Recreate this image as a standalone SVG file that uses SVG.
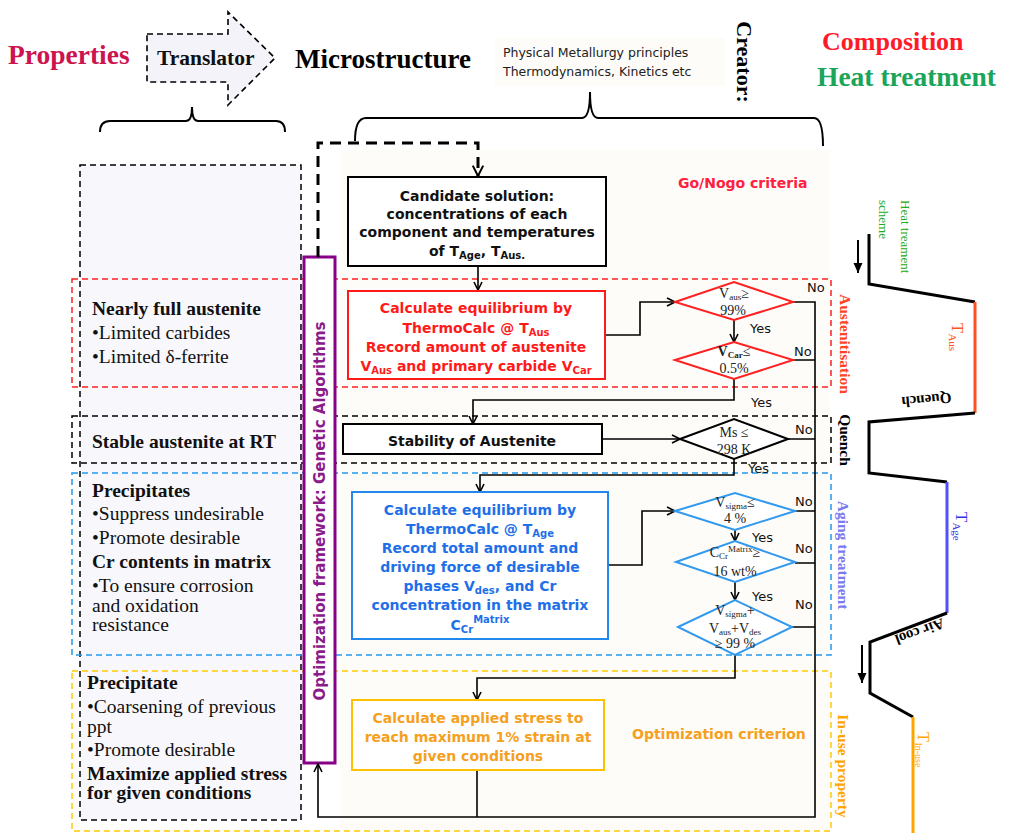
<svg xmlns="http://www.w3.org/2000/svg" width="1010" height="833" viewBox="0 0 1010 833">
<style>
.serif{font-family:"Liberation Serif","Times New Roman",serif}
.sans{font-family:"DejaVu Sans",Verdana,sans-serif}
.b{font-weight:bold}
.box{fill:#fff;stroke-width:2}
.ln{fill:none;stroke:#000;stroke-width:1.6}
.reg{fill:none;stroke-width:1.5;stroke-dasharray:6 4}
.lt{font-family:"Liberation Serif","Times New Roman",serif;font-size:19.5px;fill:#111}
.dt{font-family:"Liberation Serif","Times New Roman",serif;font-size:14px;fill:#222;text-anchor:middle}
.yn{font-family:"DejaVu Sans",Verdana,sans-serif;font-size:13px;fill:#111}
.bt{font-family:"DejaVu Sans",Verdana,sans-serif;font-weight:bold;font-size:14px;text-anchor:middle}
.heat{fill:none;stroke:#000;stroke-width:3}
</style>
<defs>
<marker id="v" viewBox="0 0 10 10" refX="9" refY="5" markerWidth="10" markerHeight="10" markerUnits="userSpaceOnUse" orient="auto"><path d="M1,1 L9,5 L1,9" fill="none" stroke="#000" stroke-width="1.6"/></marker>
<marker id="vb" viewBox="0 0 10 10" refX="9" refY="5" markerWidth="13" markerHeight="13" markerUnits="userSpaceOnUse" orient="auto"><path d="M1,1 L9,5 L1,9" fill="none" stroke="#000" stroke-width="1.5"/></marker>
<marker id="tri" viewBox="0 0 10 10" refX="10" refY="5" markerWidth="11" markerHeight="10" markerUnits="userSpaceOnUse" orient="auto"><path d="M0,0.5 L10,5 L0,9.5 z" fill="#000"/></marker>
</defs>

<!-- backgrounds -->
<rect x="80" y="165" width="221" height="655" fill="#f8f8fc"/>
<rect x="340" y="150" width="490" height="680" fill="#fefcf9"/>
<rect x="495" y="38" width="230" height="48" fill="#fefcf8"/>

<!-- top labels -->
<g id="top">
<text x="8" y="64" class="serif b" font-size="27.5" fill="#cc1450">Properties</text>
<g id="translator">
<polygon points="147,34 228,34 228,12 275,58 228,105 228,82 147,82" fill="#f3f3f9" stroke="#000" stroke-width="1.6" stroke-dasharray="6 4"/>
<text x="157" y="65" class="serif b" font-size="21.5" fill="#111">Translator</text>
</g>
<text x="295" y="68" class="serif b" font-size="27" fill="#000">Microstructure</text>
<text x="503" y="57" class="sans" font-size="12.5" fill="#222">Physical Metallurgy principles</text>
<text x="503" y="76" class="sans" font-size="12.5" fill="#222">Thermodynamics, Kinetics etc</text>
<text transform="translate(737,62) rotate(90)" text-anchor="middle" class="serif b" font-size="22" fill="#000">Creator:</text>
<text x="822" y="50" class="serif b" font-size="26" fill="#ff1a2a">Composition</text>
<text x="817" y="86" class="serif b" font-size="27.5" fill="#1aa55a">Heat treatment</text>
<path d="M100,132 Q100,121 110,121 H186 Q192,121 192,107 Q192,121 198,121 H276 Q285,121 285,132" fill="none" stroke="#000" stroke-width="2"/>
<path d="M355,141 Q355,118 366,118 H582 Q590,118 590,92 Q590,118 598,118 H814 Q823,118 823,146" fill="none" stroke="#000" stroke-width="2"/>
</g>

<!-- regions -->
<g id="regions">
<rect x="80" y="165" width="221" height="655" class="reg" stroke="#000"/>
<rect x="72" y="279" width="759" height="108" class="reg" stroke="#ff2020"/>
<rect x="72" y="416" width="759" height="47" class="reg" stroke="#000"/>
<rect x="72" y="473" width="759" height="182" class="reg" stroke="#2299ee"/>
<rect x="72" y="671" width="759" height="160" class="reg" stroke="#ffcc00"/>
<text transform="translate(840,344) rotate(90)" text-anchor="middle" class="serif b" font-size="15.5" fill="#ff4422">Austenitisation</text>
<text transform="translate(840,440) rotate(90)" text-anchor="middle" class="serif b" font-size="15.5" fill="#000">Quench</text>
<text transform="translate(838,555) rotate(90)" text-anchor="middle" class="serif b" font-size="15.5" fill="#7b7bf0">Aging treatment</text>
<text transform="translate(838,766) rotate(90)" text-anchor="middle" class="serif b" font-size="15.5" fill="#ffa500">In-use property</text>
<text x="678" y="188" class="sans b" font-size="14" fill="#ff2040">Go/Nogo criteria</text>
<text x="632" y="739" class="sans b" font-size="14" fill="#f5a020">Optimization criterion</text>
</g>

<!-- left column texts -->
<g id="left-austenite">
<text x="92" y="315" class="lt b">Nearly full austenite</text>
<text x="92" y="339" class="lt">•Limited carbides</text>
<text x="92" y="363" class="lt">•Limited δ-ferrite</text>
</g>
<g id="left-quench"><text x="92" y="448" class="lt b">Stable austenite at RT</text></g>
<g id="left-aging">
<text x="92" y="497" class="lt b">Precipitates</text>
<text x="92" y="520" class="lt">•Suppress undesirable</text>
<text x="92" y="544" class="lt">•Promote desirable</text>
<text x="92" y="568" class="lt b">Cr contents in matrix</text>
<text x="92" y="592" class="lt">•To ensure corrosion</text>
<text x="92" y="612" class="lt">and oxidation</text>
<text x="92" y="631" class="lt">resistance</text>
</g>
<g id="left-inuse">
<text x="87" y="689" class="lt b">Precipitate</text>
<text x="87" y="713" class="lt">•Coarsening of previous</text>
<text x="87" y="733" class="lt">ppt</text>
<text x="87" y="756" class="lt">•Promote desirable</text>
<text x="87" y="780" class="lt b">Maximize applied stress</text>
<text x="87" y="799" class="lt b">for given conditions</text>
</g>

<!-- optimization framework -->
<g id="ga">
<rect x="304" y="257" width="31" height="506" fill="#fff" stroke="#880088" stroke-width="3"/>
<text transform="translate(325,511) rotate(-90)" text-anchor="middle" class="sans b" font-size="15" fill="#8b1a8b">Optimization framework: Genetic Algorithms</text>
</g>

<!-- connectors -->
<g id="connectors">
<path d="M318,257 V143 H478 V176" fill="none" stroke="#000" stroke-width="3" stroke-dasharray="11 7" marker-end="url(#vb)"/>
<path d="M478,266 V290" class="ln" marker-end="url(#v)"/>
<path d="M605,335 H640 V302 H675" class="ln" marker-end="url(#v)"/>
<path d="M734,320 V342" class="ln" marker-end="url(#v)"/>
<path d="M734,379 V400 H473 V424" class="ln" marker-end="url(#v)"/>
<path d="M602,439 H680" class="ln" marker-end="url(#v)"/>
<path d="M734,459 V475 H480 V492" class="ln" marker-end="url(#v)"/>
<path d="M608,565 H642 V511 H675" class="ln" marker-end="url(#v)"/>
<path d="M735,530 V541" class="ln" marker-end="url(#v)"/>
<path d="M735,582 V600" class="ln" marker-end="url(#v)"/>
<path d="M735,655 V678 H477 V700" class="ln" marker-end="url(#v)"/>
<path d="M793,302 H815 V817 H318 V764" class="ln" marker-end="url(#v)"/>
<path d="M477,770 V817" class="ln"/>
<path d="M793,360 H815 M788,439 H815 M795,511 H815 M795,563 H815 M792,627 H815" class="ln"/>
<text x="807" y="292" class="yn">No</text>
<text x="750" y="333" class="yn">Yes</text>
<text x="794" y="356" class="yn">No</text>
<text x="751" y="407" class="yn">Yes</text>
<text x="795" y="434" class="yn">No</text>
<text x="748" y="473" class="yn">Yes</text>
<text x="795" y="506" class="yn">No</text>
<text x="752" y="542" class="yn">Yes</text>
<text x="795" y="553" class="yn">No</text>
<text x="752" y="601" class="yn">Yes</text>
<text x="795" y="609" class="yn">No</text>
</g>

<!-- process boxes -->
<g id="candidate">
<rect x="348" y="177" width="258" height="89" class="box" stroke="#000"/>
<text class="bt" fill="#111"><tspan x="477" y="201">Candidate solution:</tspan><tspan x="477" y="219">concentrations of each</tspan><tspan x="477" y="237">component and temperatures</tspan><tspan x="477" y="256">of T<tspan font-size="10" dy="3">Age</tspan><tspan dy="-3">, T</tspan><tspan font-size="10" dy="3">Aus.</tspan></tspan></text>
</g>
<g id="thermocalc-aus">
<rect x="348" y="291" width="257" height="88" class="box" stroke="#ff1a1a"/>
<text class="bt" fill="#ff1a1a"><tspan x="476" y="313">Calculate equilibrium by</tspan><tspan x="476" y="333">ThermoCalc @ T<tspan font-size="10" dy="3">Aus</tspan></tspan><tspan x="476" y="352">Record amount of austenite</tspan><tspan x="476" y="371">V<tspan font-size="10" dy="3">Aus</tspan><tspan dy="-3"> and primary carbide V</tspan><tspan font-size="10" dy="3">Car</tspan></tspan></text>
</g>
<g id="stability">
<rect x="343" y="424" width="259" height="30" class="box" stroke="#000"/>
<text x="472" y="446" class="bt" fill="#111">Stability of Austenite</text>
</g>
<g id="thermocalc-age">
<rect x="352" y="492" width="256" height="147" class="box" stroke="#2288ee"/>
<text class="bt" fill="#1e6fe8"><tspan x="480" y="515">Calculate equilibrium by</tspan><tspan x="480" y="534">ThermoCalc @ T<tspan font-size="10" dy="3">Age</tspan></tspan><tspan x="480" y="553">Record total amount and</tspan><tspan x="480" y="572">driving force of desirable</tspan><tspan x="480" y="591">phases V<tspan font-size="10" dy="3">des</tspan><tspan dy="-3">,  and Cr</tspan></tspan><tspan x="480" y="610">concentration in the matrix</tspan><tspan x="480" y="630">C<tspan font-size="10" dy="3">Cr</tspan><tspan font-size="10" dy="-10">Matrix</tspan></tspan></text>
</g>
<g id="stress">
<rect x="352" y="700" width="252" height="70" class="box" stroke="#ffc000"/>
<text class="bt" fill="#f5a020"><tspan x="478" y="723">Calculate applied stress to</tspan><tspan x="478" y="742">reach maximum 1% strain at</tspan><tspan x="478" y="761">given conditions</tspan></text>
</g>

<!-- decisions -->
<g id="d-aus">
<polygon points="675,302 734,282 793,302 734,320" fill="#fff" stroke="#ff2020" stroke-width="2"/>
<text x="734" y="298" class="dt">V<tspan font-size="9" dy="2">aus</tspan><tspan dy="-2">≥</tspan></text>
<text x="733" y="315" class="dt">99%</text>
</g>
<g id="d-car">
<polygon points="675,360 734,342 793,360 734,379" fill="#fff" stroke="#ff2020" stroke-width="2"/>
<text x="734" y="356" class="dt"><tspan font-weight="bold">V</tspan><tspan font-size="9" font-weight="bold" dy="2">Car</tspan><tspan dy="-2">≤</tspan></text>
<text x="734" y="373" class="dt">0.5%</text>
</g>
<g id="d-ms">
<polygon points="680,439 734,419 788,439 734,459" fill="#fff" stroke="#000" stroke-width="2"/>
<text x="734" y="437" class="dt">Ms ≤</text>
<text x="734" y="454" class="dt">298 K</text>
</g>
<g id="d-sigma">
<polygon points="675,511 735,493 795,511 735,530" fill="#fff" stroke="#3399ee" stroke-width="2"/>
<text x="735" y="507" class="dt">V<tspan font-size="9" dy="2">sigma</tspan><tspan dy="-2">≤</tspan></text>
<text x="735" y="523" class="dt">4 %</text>
</g>
<g id="d-cr">
<polygon points="676,562 735,541 795,562 735,582" fill="#fff" stroke="#3399ee" stroke-width="2"/>
<text x="735" y="557" class="dt">C<tspan font-size="9" dy="2">Cr</tspan><tspan font-size="9" dy="-7">Matrix</tspan><tspan dy="5">≥</tspan></text>
<text x="735" y="576" class="dt">16 wt%</text>
</g>
<g id="d-total">
<polygon points="678,627 735,600 792,627 735,655" fill="#fff" stroke="#3399ee" stroke-width="2"/>
<text x="735" y="615" class="dt">V<tspan font-size="9" dy="2">sigma</tspan><tspan dy="-2">+</tspan></text>
<text x="735" y="633" class="dt">V<tspan font-size="9" dy="2">aus</tspan><tspan dy="-2">+V</tspan><tspan font-size="9" dy="2">des</tspan></text>
<text x="735" y="648" class="dt">≥ 99 %</text>
</g>

<!-- heat treatment scheme -->
<g id="heat-scheme">
<path d="M858,240 V273" stroke="#000" stroke-width="2" marker-end="url(#tri)"/>
<path d="M862,645 V683" stroke="#000" stroke-width="2" marker-end="url(#tri)"/>
<path d="M869,234 V284 L975,302" class="heat"/>
<path d="M975,302 V413" fill="none" stroke="#ff5020" stroke-width="3"/>
<path d="M975,413 L869,422 V473 L947,482" class="heat"/>
<path d="M947,482 V613" fill="none" stroke="#5050ff" stroke-width="3"/>
<path d="M947,613 L870,642 V693 L913,717" class="heat"/>
<path d="M913,717 V833" fill="none" stroke="#ffa500" stroke-width="3"/>
<text transform="translate(901,200) rotate(90)" class="serif" font-size="13" fill="#22aa22">Heat treament</text>
<text transform="translate(879,200) rotate(90)" class="serif" font-size="13" fill="#22aa22">scheme</text>
<text transform="translate(952,323) rotate(90)" class="serif" font-size="17" fill="#ff5020">T<tspan font-size="11" dy="3">Aus</tspan></text>
<text transform="translate(926,395) rotate(175)" text-anchor="middle" class="serif b" font-size="15" fill="#000">Quench</text>
<text transform="translate(956,512) rotate(90)" class="serif" font-size="17" fill="#3333ee">T<tspan font-size="11" dy="3">Age</tspan></text>
<text transform="translate(918,627) rotate(160)" text-anchor="middle" class="serif b" font-size="15" fill="#000">Air cool</text>
<text transform="translate(918,732) rotate(90)" class="serif" font-size="17" fill="#ffa500">T<tspan font-size="10" dy="3">In-use</tspan></text>
</g>
</svg>
